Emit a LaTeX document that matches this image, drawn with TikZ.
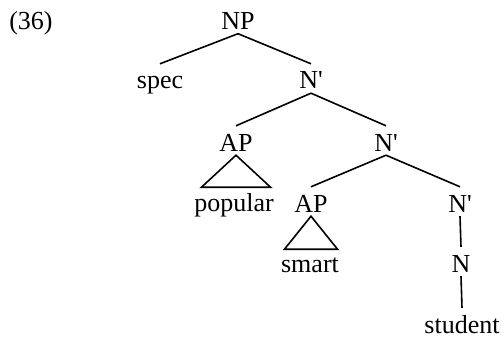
\documentclass[tikz,border=0pt]{standalone}
\usepackage{fontspec}
\setmainfont{Liberation Serif}
\newcommand{\Nbar}{N\textquotesingle}
\tikzset{
  cat/.style={anchor=base, inner xsep=1pt, inner ysep=4pt, text height=21pt, text depth=0pt},
  rama/.style={line width=1.6pt},
}
\begin{document}
\begin{tikzpicture}[x=1pt, y=-1pt, font=\fontsize{26}{31}\selectfont]
    \useasboundingbox (0,0) rectangle (504,337);
    % Numero del ejemplo
    \node[anchor=base] (ej) at (31,29.5) {(36)};
    % Nodos del arbol
    \node[cat] (np) at (238,29.5) {NP};
    \node[cat] (spec) at (160,89) {spec};
    \node[cat] (nb1) at (311,89) {\Nbar};
    \node[cat] (ap1) at (236,151) {AP};
    \node[cat] (nb2) at (386,151) {\Nbar};
    \node[cat] (popular) at (234,211) {popular};
    \node[cat] (ap2) at (311,212) {AP};
    \node[cat] (nb3) at (460,212) {\Nbar};
    \node[cat] (smart) at (310,272) {smart};
    \node[cat] (n) at (461,272) {N};
    \node[cat] (student) at (462,333) {student};
    % Ramas
    \draw[rama] (np.south) -- (spec.north);
    \draw[rama] (np.south) -- (nb1.north);
    \draw[rama] (nb1.south) -- (ap1.north);
    \draw[rama] (nb1.south) -- (nb2.north);
    \draw[rama] (nb2.south) -- (ap2.north);
    \draw[rama] (nb2.south) -- (nb3.north);
    \draw[rama] (nb3.south) -- (n.north);
    \draw[rama] (n.south) -- (student.north);
    % Triangulos
    \draw[rama, line join=miter] (ap1.south) -- ++(-34.5,32) -- ++(69,0) -- cycle;
    \draw[rama, line join=miter] (ap2.south) -- ++(-26.5,33) -- ++(53,0) -- cycle;
\end{tikzpicture}
\end{document}
